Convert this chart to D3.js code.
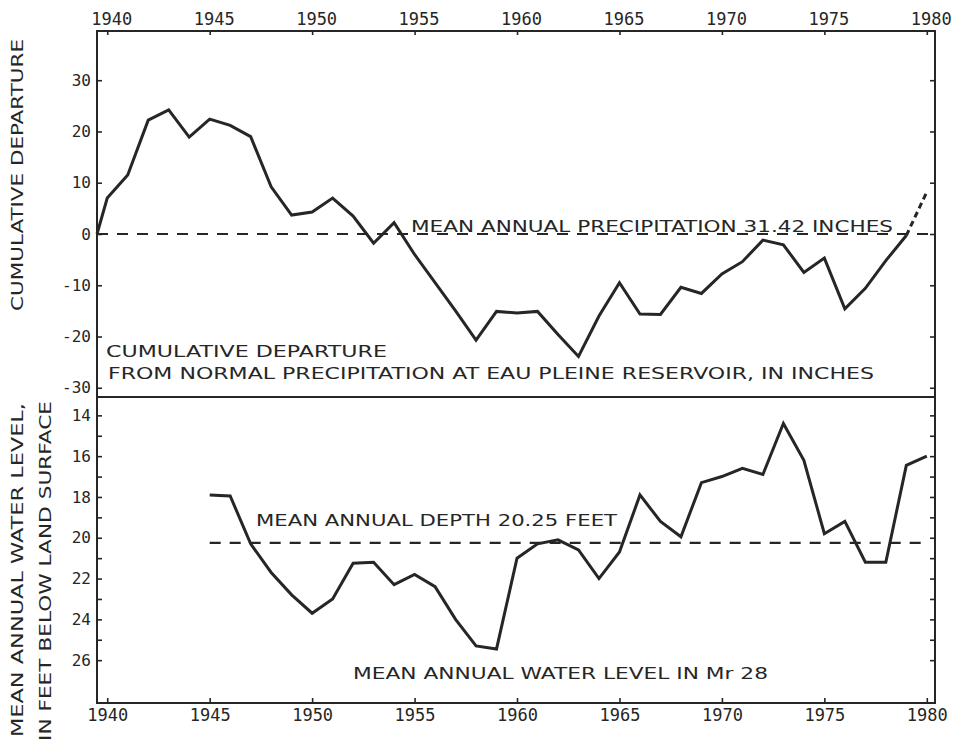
<!DOCTYPE html>
<html>
<head>
<meta charset="utf-8">
<script src="https://cdn.jsdelivr.net/npm/d3@7/dist/d3.min.js"></script>
<style>
  html, body { margin: 0; padding: 0; background: #fff; }
  svg { display: block; }
</style>
</head>
<body>
<svg id="chart" width="953" height="742"></svg>
<script>
// Cumulative departure from normal precipitation, Eau Pleine Reservoir (inches)
const precipYears = [1939.5, 1940, 1941, 1942, 1943, 1944, 1945, 1946, 1947, 1948, 1949,
  1950, 1951, 1952, 1953, 1954, 1955, 1956, 1957, 1958, 1959,
  1960, 1961, 1962, 1963, 1964, 1965, 1966, 1967, 1968, 1969,
  1970, 1971, 1972, 1973, 1974, 1975, 1976, 1977, 1978, 1979, 1980];
const precipDeparture = [0, 7.0, 11.5, 22.2, 24.2, 18.9, 22.4, 21.2, 19.0, 9.2, 3.7,
  4.3, 7.0, 3.5, -1.8, 2.2, -4.0, -9.5, -15.0, -20.7, -15.1,
  -15.4, -15.1, -19.6, -23.9, -16.0, -9.5, -15.6, -15.7, -10.4, -11.6,
  -7.8, -5.4, -1.2, -2.1, -7.5, -4.7, -14.6, -10.6, -5.2, -0.3, 8.2];
const precipProvisionalFrom = 1979;   // last segment drawn dashed
const precipMean = 0;                 // departure of the mean annual precipitation
const precipMeanLabel = "MEAN ANNUAL PRECIPITATION 31.42 INCHES";

// Mean annual water level in well Mr 28 (feet below land surface)
const wellYears = [1945, 1946, 1947, 1948, 1949, 1950, 1951, 1952, 1953, 1954,
  1955, 1956, 1957, 1958, 1959, 1960, 1961, 1962, 1963, 1964,
  1965, 1966, 1967, 1968, 1969, 1970, 1971, 1972, 1973, 1974,
  1975, 1976, 1977, 1978, 1979, 1980];
const wellDepth = [17.9, 17.95, 20.3, 21.7, 22.8, 23.7, 23.0, 21.25, 21.2, 22.3,
  21.8, 22.4, 24.0, 25.3, 25.45, 21.0, 20.3, 20.1, 20.6, 22.0,
  20.7, 17.9, 19.2, 19.95, 17.3, 17.0, 16.6, 16.9, 14.4, 16.2,
  19.8, 19.2, 21.2, 21.2, 16.45, 16.0];
const wellMean = 20.25;
const wellMeanStart = 1945;
const wellMeanLabel = "MEAN ANNUAL DEPTH 20.25 FEET";

// Tick values
const yearTicks = [1940, 1945, 1950, 1955, 1960, 1965, 1970, 1975, 1980];
const departureTicks = [30, 20, 10, 0, -10, -20, -30];
const depthTicks = [14, 15, 16, 17, 18, 19, 20, 21, 22, 23, 24, 25, 26];
const depthLabels = [14, 16, 18, 20, 22, 24, 26];

// Layout
const L = 97, R = 935, T = 31, MID = 397, B = 703;
const ink = "#262626";
const labelFont = "'DejaVu Sans', Verdana, sans-serif";
const numFont = "'DejaVu Sans Mono', 'Liberation Mono', monospace";

const svg = d3.select("#chart");

const x = d3.scaleLinear().domain([1939.5, 1980.4]).range([L, R]);
const yTop = d3.scaleLinear().domain([-31.8, 39.6]).range([MID, T]);
const yBot = d3.scaleLinear().domain([13.1, 28.1]).range([MID, B]);

// plain hyphen for negative numbers, as on the printed scale
const plain = d => String(d);

// ---- axes ----
function styleAxis(g, size) {
  g.select(".domain").remove();
  g.selectAll(".tick line").attr("stroke", ink).attr("stroke-width", 1.6);
  g.selectAll(".tick text").attr("fill", ink).style("font-family", numFont)
    .style("font-size", size + "px");
}

svg.append("g").attr("transform", `translate(0,${T})`)
  .call(d3.axisTop(x).tickValues(yearTicks).tickFormat(plain)
    .tickSizeInner(-4).tickSizeOuter(0).tickPadding(6))
  .call(g => styleAxis(g, 17))
  .call(g => g.selectAll(".tick text").attr("dx", 4));

svg.append("g").attr("transform", `translate(0,${B})`)
  .call(d3.axisBottom(x).tickValues(yearTicks).tickFormat(plain)
    .tickSizeInner(-5).tickSizeOuter(0).tickPadding(6))
  .call(g => styleAxis(g, 17));

svg.append("g").attr("transform", `translate(${L},0)`)
  .call(d3.axisLeft(yTop).tickValues(departureTicks).tickFormat(plain)
    .tickSizeInner(-5).tickSizeOuter(0).tickPadding(6))
  .call(g => styleAxis(g, 16));

svg.append("g").attr("transform", `translate(${R},0)`)
  .call(d3.axisRight(yTop).tickValues(departureTicks).tickFormat("")
    .tickSizeInner(-5).tickSizeOuter(0))
  .call(g => styleAxis(g, 16));

svg.append("g").attr("transform", `translate(${L},0)`)
  .call(d3.axisLeft(yBot).tickValues(depthTicks)
    .tickFormat(d => depthLabels.includes(d) ? String(d) : "")
    .tickSizeInner(-5).tickSizeOuter(0).tickPadding(6))
  .call(g => styleAxis(g, 16));

svg.append("g").attr("transform", `translate(${R},0)`)
  .call(d3.axisRight(yBot).tickValues(depthTicks).tickFormat("")
    .tickSizeInner(-5).tickSizeOuter(0))
  .call(g => styleAxis(g, 16));

// ---- frame ----
svg.append("rect").attr("x", L).attr("y", T).attr("width", R - L).attr("height", B - T)
  .attr("fill", "none").attr("stroke", ink).attr("stroke-width", 2);
svg.append("line").attr("x1", L).attr("x2", R).attr("y1", MID).attr("y2", MID)
  .attr("stroke", ink).attr("stroke-width", 2);

// ---- mean lines ----
svg.append("line")
  .attr("x1", x(1939.5)).attr("x2", x(1980.3))
  .attr("y1", yTop(precipMean)).attr("y2", yTop(precipMean))
  .attr("stroke", ink).attr("stroke-width", 2.2).attr("stroke-dasharray", "11,9");

svg.append("line")
  .attr("x1", x(wellMeanStart)).attr("x2", x(1980))
  .attr("y1", yBot(wellMean)).attr("y2", yBot(wellMean))
  .attr("stroke", ink).attr("stroke-width", 2.2).attr("stroke-dasharray", "11,9");

// ---- series ----
const precip = precipYears.map((yr, i) => ({ yr, v: precipDeparture[i] }));
const lineTop = d3.line().x(d => x(d.yr)).y(d => yTop(d.v));

svg.append("path")
  .datum(precip.filter(d => d.yr <= precipProvisionalFrom))
  .attr("d", lineTop)
  .attr("fill", "none").attr("stroke", ink).attr("stroke-width", 3)
  .attr("stroke-linejoin", "miter");

svg.append("path")
  .datum(precip.filter(d => d.yr >= precipProvisionalFrom))
  .attr("d", lineTop)
  .attr("fill", "none").attr("stroke", ink).attr("stroke-width", 3)
  .attr("stroke-dasharray", "6,4");

const well = wellYears.map((yr, i) => ({ yr, v: wellDepth[i] }));
svg.append("path")
  .datum(well)
  .attr("d", d3.line().x(d => x(d.yr)).y(d => yBot(d.v)))
  .attr("fill", "none").attr("stroke", ink).attr("stroke-width", 3)
  .attr("stroke-linejoin", "miter");

// ---- text ----
function label(txt, px, py, len, rotate) {
  const t = svg.append("text")
    .attr("fill", ink)
    .style("font-family", labelFont)
    .style("font-size", "15.5px")
    .attr("textLength", len)
    .attr("lengthAdjust", "spacingAndGlyphs")
    .text(txt);
  if (rotate) {
    t.attr("text-anchor", "middle")
      .attr("transform", `translate(${px},${py}) rotate(-90)`);
  } else {
    t.attr("x", px).attr("y", py);
  }
  return t;
}

label(precipMeanLabel, 411, 231.5, 482);
label("CUMULATIVE DEPARTURE", 106, 357, 281);
label("FROM NORMAL PRECIPITATION AT EAU PLEINE RESERVOIR, IN INCHES", 108, 379, 766);
label(wellMeanLabel, 256, 526, 361);
label("MEAN ANNUAL WATER LEVEL IN Mr 28", 353, 679, 415);

label("CUMULATIVE DEPARTURE", 23, 175, 272, true);
label("MEAN ANNUAL WATER LEVEL,", 23, 570, 334, true);
label("IN FEET BELOW LAND SURFACE", 51, 571, 340, true);
</script>
</body>
</html>
